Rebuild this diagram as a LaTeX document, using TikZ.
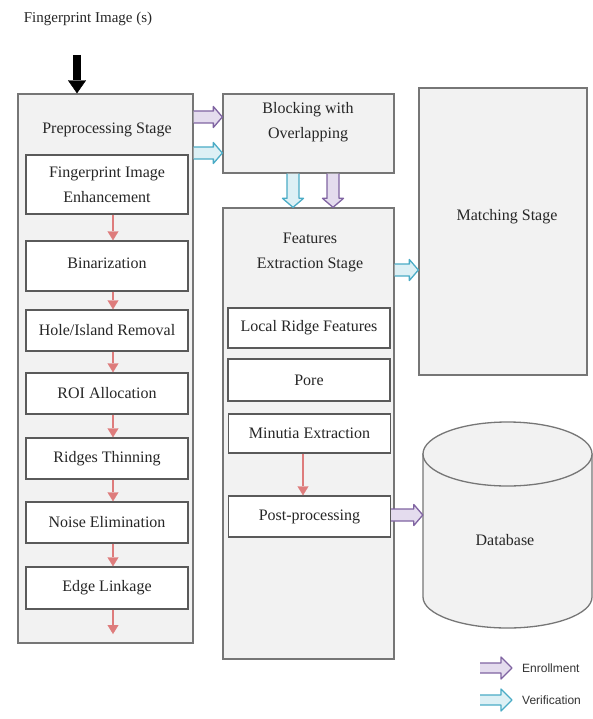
\documentclass[tikz,border=0pt]{standalone}
\usepackage{fontspec}
\setmainfont{Liberation Serif}
\newfontfamily\legendfont{Liberation Sans}
\usetikzlibrary{arrows.meta,calc}
\definecolor{boxfill}{HTML}{F2F2F2}
\definecolor{boxline}{HTML}{767676}
\definecolor{innerline}{HTML}{5A5A5A}
\definecolor{enrollline}{HTML}{8064A2}
\definecolor{enrollfill}{HTML}{E4DCEE}
\definecolor{verifline}{HTML}{4BACC6}
\definecolor{veriffill}{HTML}{DDF0F5}
\definecolor{redarr}{HTML}{DE7C7C}
\begin{document}
\begin{tikzpicture}[x=1pt,y=-1pt,
  font=\fontsize{16}{25}\selectfont,
  stage/.style={draw=boxline, fill=boxfill, line width=1.3pt, inner sep=0pt, rectangle},
  sub/.style={draw=innerline, fill=white, line width=1.4pt, minimum width=162pt, inner sep=0pt, text=black!85, align=center},
  txt/.style={text=black!85, align=center, inner sep=0pt},
  flow/.style={draw=redarr, line width=2.5pt, -{Triangle[length=9pt,width=11pt,line width=0.4pt]}},
  hollowR/.style n args={3}{to path={let \p1=(\tikztostart), \p2=(\tikztotarget) in
     (\x1,\y1+#1) -- (\x2-#3,\y1+#1) -- (\x2-#3,\y1+#2) -- (\x2,\y1) -- (\x2-#3,\y1-#2) -- (\x2-#3,\y1-#1) -- (\x1,\y1-#1)}},
  hollowD/.style n args={3}{to path={let \p1=(\tikztostart), \p2=(\tikztotarget) in
     (\x1-#1,\y1) -- (\x1-#1,\y2+#3) -- (\x1-#2,\y2+#3) -- (\x1,\y2) -- (\x1+#2,\y2+#3) -- (\x1+#1,\y2+#3) -- (\x1+#1,\y1)}},
  enroll/.style={draw=enrollline, fill=enrollfill, line width=1.3pt, line join=round},
  verif/.style={draw=verifline, fill=veriffill, line width=1.3pt, line join=round},
]
\useasboundingbox[fill=white] (0,0) rectangle (593,719);

% title and input arrow
\node[txt, font=\fontsize{15}{18}\selectfont] (title) at (88,19) {Fingerprint Image (s)};
\coordinate (src) at (77,55);

% preprocessing stage
\node[stage, minimum width=175pt, minimum height=549pt] (prep) at (105.5,368.5) {};
\node[txt] (prept) at (107,130) {Preprocessing Stage};
\node[sub, minimum height=59pt] (fie) at (107,184.5) {Fingerprint Image\\Enhancement};
\node[sub, minimum height=50pt] (bin) at (107,266) {\raisebox{5pt}{Binarization}};
\node[sub, minimum height=41pt] (hole) at (107,330.5) {Hole/Island Removal};
\node[sub, minimum height=41pt] (roi) at (107,393.5) {ROI Allocation};
\node[sub, minimum height=41pt] (thin) at (107,458.5) {Ridges Thinning};
\node[sub, minimum height=41pt] (noise) at (107,522.5) {Noise Elimination};
\node[sub, minimum height=42pt] (edge) at (107,588) {Edge Linkage};
\coordinate (prepend) at (113,634);

\draw[line width=8pt, -{Triangle[length=13pt,width=18pt,line width=0.4pt]}] (src) -- (prep.north -| 77,0);

\foreach \a/\b in {fie/bin,bin/hole,hole/roi,roi/thin,thin/noise,noise/edge}
  \draw[flow] (\a.south -| 113,0) -- (\b.north -| 113,0);
\draw[flow] (edge.south -| 113,0) -- (prepend);

% blocking
\node[stage, minimum width=171pt, minimum height=79pt] (blk) at (308.5,133.5) {};
\node[txt] (blkt) at (308,122.5) {Blocking with\\Overlapping};

% features extraction
\node[stage, minimum width=171pt, minimum height=451pt] (feat) at (308.5,433.5) {};
\node[txt] (featt) at (310,252.5) {Features\\Extraction Stage};
\node[sub, minimum height=40pt] (lrf) at (309,328) {Local Ridge Features};
\node[sub, minimum height=42pt] (pore) at (309,380) {Pore};
\node[sub, minimum height=39pt] (minu) at (309.5,433.5) {Minutia Extraction};
\node[sub, minimum height=41pt] (post) at (309.5,516.5) {Post-processing};
\draw[flow] (minu.south -| 303,0) -- (post.north -| 303,0);

% matching
\node[stage, minimum width=168pt, minimum height=287pt] (match) at (503,231.5) {};
\node[txt] (matcht) at (507,217) {Matching Stage};

% database cylinder
\draw[stage] (423,454) -- (423,597) arc[start angle=180, end angle=360, x radius=84.5pt, y radius=31pt] -- (592,454) -- cycle;
\draw[stage] (507.5,454) ellipse [x radius=84.5pt, y radius=32pt];
\node[inner sep=0pt, minimum width=169pt, minimum height=206pt] (db) at (507.5,525) {};
\node[txt] (dbt) at (505,540) {Database};

% hollow connectors
\draw[enroll, hollowR={6pt}{10.5pt}{9pt}] (prep.east |- 0,117) to (blk.west |- 0,117);
\draw[verif, hollowR={6pt}{10.5pt}{9pt}] (prep.east |- 0,153) to (blk.west |- 0,153);
\draw[verif, hollowD={6pt}{10.5pt}{9pt}] (blk.south -| 293,0) to (feat.north -| 293,0);
\draw[enroll, hollowD={6pt}{10.5pt}{9pt}] (blk.south -| 333,0) to (feat.north -| 333,0);
\draw[verif, hollowR={6pt}{10.5pt}{9pt}] (feat.east |- 0,270) to (match.west |- 0,270);
\draw[enroll, hollowR={6pt}{10.5pt}{9pt}] (post.east |- 0,515) to (db.west |- 0,515);

% legend
\coordinate (l1a) at (480,668);
\coordinate (l1b) at (512,668);
\coordinate (l2a) at (480,700);
\coordinate (l2b) at (512,700);
\draw[enroll, hollowR={5pt}{11pt}{11pt}] (l1a) to (l1b);
\draw[verif, hollowR={5pt}{11pt}{11pt}] (l2a) to (l2b);
\node[anchor=west, inner sep=0pt, text=black!80, font=\legendfont\fontsize{12}{14}\selectfont] (l1t) at (522,668) {Enrollment};
\node[anchor=west, inner sep=0pt, text=black!80, font=\legendfont\fontsize{12}{14}\selectfont] (l2t) at (522,700) {Verification};
\end{tikzpicture}
\end{document}
